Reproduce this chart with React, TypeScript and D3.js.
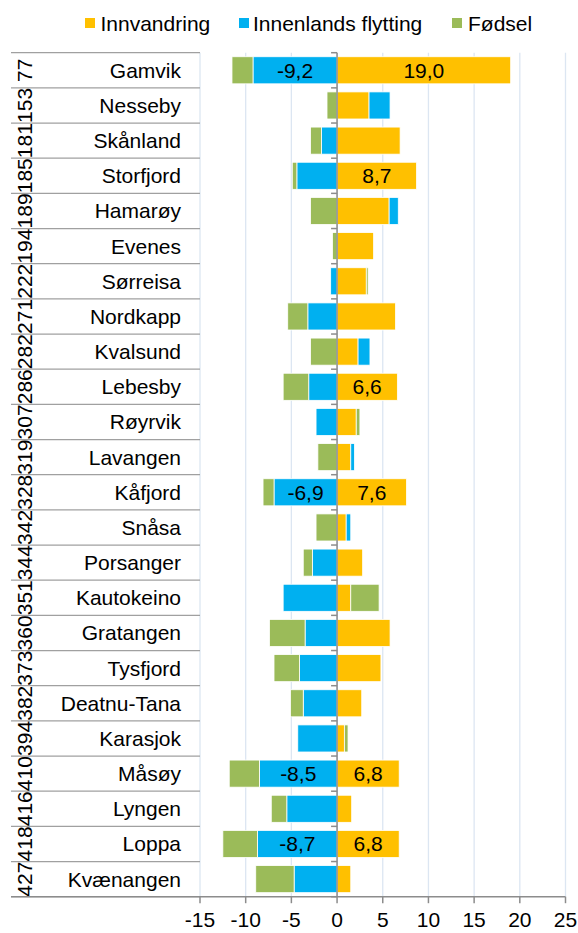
import React from "react";
import * as d3 from "d3";

// kommunenummer (ytre nivå) og navn (indre nivå)
const codes = ["77", "153", "181", "185", "189", "194", "222", "271", "282", "286", "307", "319",
  "328", "342", "344", "351", "360", "373", "382", "394", "410", "416", "418", "427"];
const names = ["Gamvik", "Nesseby", "Skånland", "Storfjord", "Hamarøy", "Evenes", "Sørreisa",
  "Nordkapp", "Kvalsund", "Lebesby", "Røyrvik", "Lavangen", "Kåfjord", "Snåsa", "Porsanger",
  "Kautokeino", "Gratangen", "Tysfjord", "Deatnu-Tana", "Karasjok", "Måsøy", "Lyngen", "Loppa",
  "Kvænangen"];

const innvandring = [19.0, 3.5, 6.9, 8.7, 5.7, 4.0, 3.2, 6.4, 2.3, 6.6, 2.1, 1.5, 7.6, 1.0, 2.8,
  1.5, 5.8, 4.8, 2.7, 0.8, 6.8, 1.6, 6.8, 1.5];
const innenlands = [-9.2, 2.3, -1.7, -4.4, 1.0, 0, -0.7, -3.2, 1.3, -3.1, -2.3, 0.4, -6.9, 0.5,
  -2.7, -5.9, -3.5, -4.1, -3.7, -4.3, -8.5, -5.5, -8.7, -4.7];
const fodsel = [-2.3, -1.1, -1.2, -0.5, -2.9, -0.5, 0.2, -2.2, -2.9, -2.8, 0.4, -2.1, -1.2, -2.3,
  -1.0, 3.1, -3.9, -2.8, -1.4, 0.4, -3.3, -1.7, -3.8, -4.2];

// hvilke verdier som har dataetikett
const labelledInnvandring = ["Gamvik", "Storfjord", "Lebesby", "Kåfjord", "Måsøy", "Loppa"];
const labelledInnenlands = ["Gamvik", "Kåfjord", "Måsøy", "Loppa"];

const xTicks = [-15, -10, -5, 0, 5, 10, 15, 20, 25];

const seriesKeys = ["Innvandring", "Innenlands flytting", "Fødsel"];
const colors = ["#FFC000", "#00B0F0", "#9BBB59"];

const W = 578, H = 933;
const font = "'Liberation Sans', Arial, sans-serif";
const fs = 21;

const fmt = d3.formatLocale({ decimal: ",", thousands: " ", grouping: [3], currency: ["", ""], minus: "-" }).format(".1f");

export default function App() {
  const rows = names.map((n, i) => ({
    name: n,
    code: codes[i],
    "Innvandring": innvandring[i],
    "Innenlands flytting": innenlands[i],
    "Fødsel": fodsel[i],
  }));

  const x = d3.scaleLinear().domain([-15, 25]).range([200, 565.5]);
  const y = d3.scaleBand().domain(names).range([52.7, 896.7]).paddingInner(0.23).paddingOuter(0.115);
  const step = y.step();
  const rowTop = (n: string) => y(n)! - step * 0.115;

  const stacked = d3.stack<any>().keys(seriesKeys).offset(d3.stackOffsetDiverging)(rows);

  const labels: Record<string, string[]> = {
    "Innvandring": labelledInnvandring,
    "Innenlands flytting": labelledInnenlands,
    "Fødsel": [],
  };

  const boundaries = d3.range(names.length + 1).map((i) => 52.7 + i * step);
  const x0 = x(0);
  const yTop = 52.7, yBot = 896.7;

  const legendPos = [
    { sq: 85, tx: 100.5 },
    { sq: 239, tx: 253 },
    { sq: 452, tx: 468 },
  ];

  return (
    <svg width={W} height={H} style={{ position: "absolute", left: 0, top: 0, background: "#fff" }}
      fontFamily={font}>
      {/* legend */}
      {seriesKeys.map((k, i) => (
        <g key={k}>
          <rect x={legendPos[i].sq} y={18} width={10} height={10} fill={colors[i]} />
          <text x={legendPos[i].tx} y={30.5} fontSize={fs} fill="#000">{k}</text>
        </g>
      ))}

      {/* gridlines */}
      {xTicks.map((t) => (
        <line key={t} x1={x(t)} x2={x(t)} y1={yTop} y2={yBot} stroke="#dce6f2" strokeWidth={1.3} />
      ))}

      {/* category panel lines */}
      {boundaries.map((b, i) => (
        <line key={i} x1={11} x2={x(-15)} y1={b} y2={b} stroke="#a0a0a0" strokeWidth={1.3} />
      ))}

      {/* bars */}
      {stacked.map((s, si) => (
        <g key={s.key} fill={colors[si]}>
          {s.map((d, i) => {
            const w = Math.abs(x(d[1]) - x(d[0]));
            if (w < 0.01) return null;
            return (
              <rect key={i} x={Math.min(x(d[0]), x(d[1]))} y={y(names[i])} width={w}
                height={y.bandwidth()} stroke="#fff" strokeWidth={0.8} />
            );
          })}
        </g>
      ))}

      {/* data labels */}
      {stacked.map((s, si) =>
        s.map((d, i) => {
          const name = names[i];
          if (!labels[s.key].includes(name)) return null;
          const v = (rows[i] as any)[s.key] as number;
          return (
            <text key={s.key + i} x={(x(d[0]) + x(d[1])) / 2} y={y(name)! + y.bandwidth() / 2 + 7.5}
              textAnchor="middle" fontSize={fs} fill="#000">{fmt(v)}</text>
          );
        })
      )}

      {/* category axis at zero */}
      <line x1={x0} x2={x0} y1={yTop} y2={yBot} stroke="#8c8c8c" strokeWidth={1.5} />
      {boundaries.map((b, i) => (
        <line key={i} x1={x0 - 6} x2={x0} y1={b} y2={b} stroke="#8c8c8c" strokeWidth={1.5} />
      ))}

      {/* category labels */}
      {names.map((n, i) => {
        const cy = rowTop(n) + step / 2;
        return (
          <g key={n}>
            <text x={181} y={cy + 7.5} textAnchor="end" fontSize={fs} fill="#000">{n}</text>
            <text transform={`translate(32.3,${cy}) rotate(-90)`} textAnchor="middle" fontSize={fs}
              fill="#000">{codes[i]}</text>
          </g>
        );
      })}

      {/* value axis */}
      <line x1={11} x2={x(25)} y1={yBot} y2={yBot} stroke="#8c8c8c" strokeWidth={1.5} />
      {xTicks.map((t) => (
        <g key={t}>
          <line x1={x(t)} x2={x(t)} y1={yBot} y2={yBot + 6.5} stroke="#8c8c8c" strokeWidth={1.5} />
          <text x={x(t)} y={927} textAnchor="middle" fontSize={fs} fill="#000">{String(t)}</text>
        </g>
      ))}
    </svg>
  );
}
